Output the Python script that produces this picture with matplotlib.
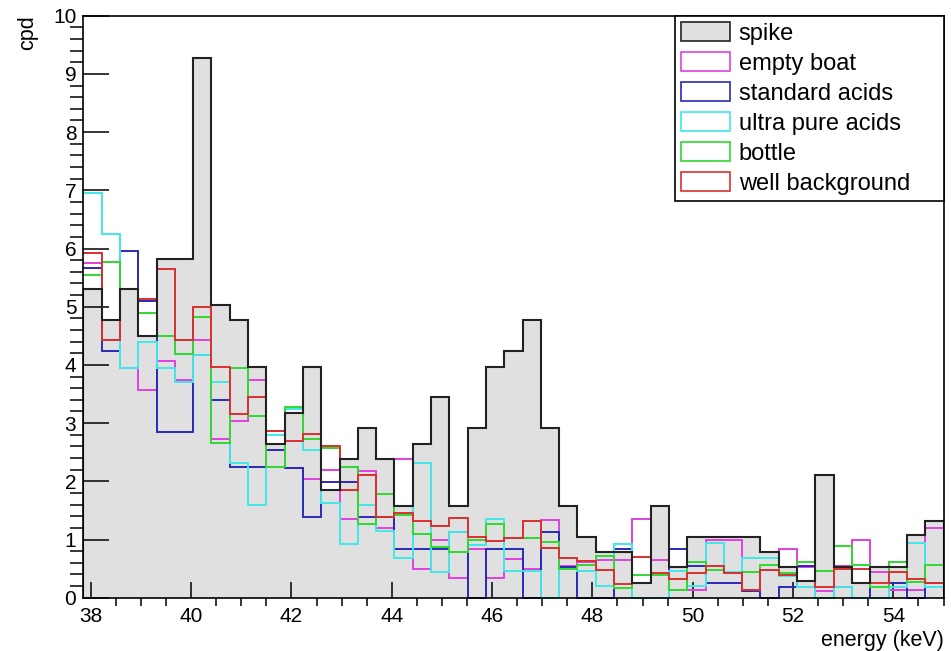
import numpy as np
import matplotlib
matplotlib.use("Agg")
import matplotlib.pyplot as plt
from matplotlib.patches import Patch

plt.rcParams['font.family'] = ['Liberation Sans', 'DejaVu Sans']

# histogram range / binning (47 bins)
x_min = 37.85
x_max = 55.0
n_bins = 47

spike = [5.30, 4.77, 5.30, 4.50, 5.82, 5.82, 9.28, 5.03, 4.77, 3.96,
         2.64, 3.17, 3.96, 1.85, 2.38, 2.91, 2.38, 1.58, 2.64, 3.44,
         1.58, 2.92, 3.97, 4.24, 4.77, 2.92, 1.58, 1.05, 0.78, 0.78,
         0.26, 1.58, 0.53, 1.05, 1.05, 1.05, 1.05, 0.78, 0.52, 0.28,
         2.11, 0.52, 0.26, 0.52, 0.52, 1.07, 1.31]
empty_boat = [5.75, 4.42, 3.94, 3.57, 4.07, 3.74, 4.43, 2.73, 3.04, 3.74,
              2.87, 2.22, 2.04, 2.19, 1.35, 2.18, 1.19, 2.38, 0.49, 1.00,
              0.33, 0.84, 0.34, 0.66, 0.49, 1.34, 0.54, 0.62, 0.65, 0.65,
              1.35, 0.65, 0.14, 0.14, 0.99, 0.99, 0.14, 0.47, 0.84, 0.52,
              0.12, 0.55, 0.99, 0.45, 0.14, 0.14, 1.19]
standard_acids = [5.67, 4.24, 5.96, 5.09, 2.84, 2.84, 4.17, 3.39, 2.25, 2.25,
                  2.53, 2.22, 1.39, 1.99, 1.98, 1.39, 1.39, 0.84, 0.84, 0.84,
                  1.13, 0.00, 0.84, 0.84, 0.00, 1.13, 0.53, 0.00, 0.00, 0.83,
                  0.00, 0.00, 0.83, 0.54, 0.26, 0.26, 0.12, 0.00, 0.19, 0.54,
                  0.00, 0.19, 0.00, 0.52, 0.26, 0.00, 0.25]
ultra_pure = [6.95, 6.25, 3.94, 4.40, 3.94, 3.70, 4.17, 3.70, 2.31, 1.60,
              2.80, 3.24, 2.54, 1.62, 0.92, 1.60, 1.15, 0.68, 2.31, 0.44,
              1.13, 0.91, 1.35, 0.46, 0.46, 0.00, 0.50, 0.46, 0.20, 0.93,
              0.00, 0.00, 0.46, 0.20, 0.94, 0.45, 0.68, 0.68, 0.37, 0.19,
              0.00, 0.19, 0.00, 0.00, 0.19, 0.94, 0.19]
bottle = [5.54, 5.77, 5.30, 4.90, 4.50, 4.19, 4.83, 2.65, 3.94, 3.12,
          2.24, 3.27, 2.73, 2.58, 2.25, 1.26, 1.78, 1.42, 1.09, 0.87,
          0.78, 1.00, 1.27, 1.03, 1.03, 0.95, 0.50, 0.56, 0.71, 0.17,
          0.39, 0.39, 0.14, 0.62, 0.48, 0.43, 0.45, 0.56, 0.42, 0.62,
          0.46, 0.88, 0.56, 0.19, 0.62, 0.27, 0.56]
well_background = [5.93, 4.43, 5.30, 5.14, 5.65, 4.43, 5.00, 3.97, 3.15, 3.44,
                   2.86, 2.69, 2.82, 2.61, 1.85, 2.11, 1.38, 1.45, 1.32, 1.23,
                   1.37, 1.05, 0.98, 1.02, 1.31, 0.85, 0.69, 0.63, 0.48, 0.24,
                   0.70, 0.42, 0.32, 0.42, 0.55, 0.43, 0.14, 0.47, 0.39, 0.28,
                   0.19, 0.49, 0.49, 0.25, 0.45, 0.32, 0.25]

labels = ["spike", "empty boat", "standard acids", "ultra pure acids", "bottle", "well background"]
colors = ["#e040e0", "#2a2ab8", "#40e8e8", "#30d830", "#d83030"]

edges = np.linspace(x_min, x_max, n_bins + 1)

fig = plt.figure(figsize=(9.51, 6.51), dpi=100)
fig.subplots_adjust(left=83.3 / 951, right=943.5 / 951, bottom=1 - 597.7 / 651, top=1 - 15.7 / 651)
ax = fig.add_subplot(111)

ax.stairs(spike, edges, baseline=0, fill=True, color="#e0e0e0", zorder=1)
for vals, c in zip([empty_boat, standard_acids, ultra_pure, bottle, well_background], colors):
    ax.stairs(vals, edges, baseline=None, color=c, lw=1.4, zorder=3, clip_on=False)
ax.stairs(spike, edges, baseline=0, color="#222222", lw=1.5, zorder=4)

ax.set_xlim(x_min, x_max)
ax.set_ylim(0, 10)
ax.set_xticks(np.arange(38, 55, 2))
ax.set_xticks(np.arange(38, 55.01, 0.5), minor=True)
ax.set_yticks(np.arange(0, 11, 1))
ax.set_yticks(np.arange(0, 10.01, 0.2), minor=True)
ax.tick_params(axis="both", direction="in", top=False, right=False, labelsize=15, width=1.1, color="black")
ax.tick_params(axis="x", which="major", length=11.5, pad=7)
ax.tick_params(axis="x", which="minor", length=5.8, width=1.1)
ax.tick_params(axis="y", which="major", length=19, pad=5)
ax.tick_params(axis="y", which="minor", length=9.5, width=1.1)
for s in ax.spines.values():
    s.set_linewidth(1.2)
    s.set_zorder(5)

ax.set_xlabel("energy (keV)", fontsize=15.5, loc="right")
ax.xaxis.set_label_coords(1.0, -0.055)
ax.xaxis.label.set_va("top")
ax.set_ylabel("cpd", fontsize=15.5, loc="top")
ax.yaxis.set_label_coords(-0.053, 1.0)

handles = [Patch(facecolor="#e0e0e0", edgecolor="#222222", lw=1.2)]
handles += [Patch(facecolor="white", edgecolor=c, lw=1.2) for c in colors]
left_frac = (675 - 83.3) / 860.2
leg = ax.legend(handles, labels, loc="upper left", bbox_to_anchor=(left_frac, 0, 1 - left_frac, 1),
                mode="expand", borderaxespad=0, fontsize=17, fancybox=False, edgecolor="black",
                framealpha=1, handlelength=2.1, handleheight=0.9, handletextpad=0.35,
                labelspacing=0.3, borderpad=0.25)
leg.get_frame().set_linewidth(1.2)
leg.set_zorder(6)

fig.savefig("out.png", dpi=100)
